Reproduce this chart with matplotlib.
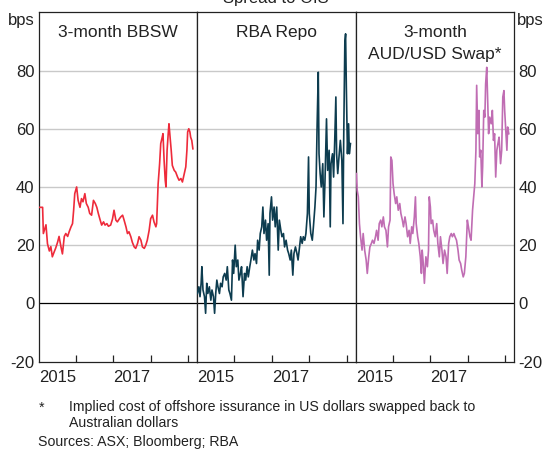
import matplotlib
matplotlib.use("Agg")
import matplotlib.pyplot as plt
from matplotlib.ticker import FixedLocator, NullFormatter, FixedFormatter

plt.rcParams['font.family'] = ['Liberation Sans', 'DejaVu Sans']
plt.rcParams['axes.unicode_minus'] = False

# ======================================================
# Data (years as decimal, values in bps)
# ======================================================

bbsw_t = [2015.02, 2015.11, 2015.13, 2015.20, 2015.24, 2015.29, 2015.33, 2015.37, 2015.42, 2015.46,
          2015.51, 2015.55, 2015.60, 2015.64, 2015.69, 2015.73, 2015.78, 2015.82, 2015.87, 2015.91,
          2015.94, 2015.97, 2016.02, 2016.06, 2016.11, 2016.15, 2016.19, 2016.24, 2016.28, 2016.33,
          2016.37, 2016.42, 2016.47, 2016.52, 2016.56, 2016.60, 2016.65, 2016.69, 2016.74, 2016.78,
          2016.83, 2016.87, 2016.93, 2016.98, 2017.02, 2017.07, 2017.11, 2017.16, 2017.20, 2017.25,
          2017.29, 2017.34, 2017.38, 2017.42, 2017.47, 2017.51, 2017.56, 2017.60, 2017.65, 2017.69,
          2017.74, 2017.78, 2017.83, 2017.87, 2017.91, 2017.96, 2018.00, 2018.05, 2018.09, 2018.14,
          2018.16, 2018.20, 2018.24, 2018.27, 2018.31, 2018.33, 2018.36, 2018.39, 2018.41, 2018.44,
          2018.47, 2018.49, 2018.52, 2018.55, 2018.58, 2018.63, 2018.67, 2018.72, 2018.76, 2018.81,
          2018.85, 2018.90, 2018.94, 2018.97, 2018.99, 2019.02, 2019.05, 2019.07, 2019.10, 2019.13]
bbsw_v = [33.0, 33.0, 24.0, 27.0, 20.5, 18.0, 19.5, 16.0, 17.7, 19.0,
          21.0, 23.0, 19.5, 17.0, 23.0, 24.0, 23.0, 24.6, 26.3, 27.4,
          32.0, 37.7, 40.0, 35.4, 33.0, 36.0, 34.9, 37.7, 34.3, 33.0,
          30.9, 30.3, 35.4, 34.3, 33.0, 30.9, 28.6, 26.9, 28.0, 26.9,
          27.4, 26.5, 26.9, 29.0, 32.0, 28.6, 28.0, 29.0, 29.7, 30.3,
          28.6, 26.3, 24.0, 24.6, 22.9, 21.0, 19.4, 18.9, 20.6, 22.9,
          21.7, 19.4, 18.9, 20.0, 21.7, 25.1, 29.1, 30.3, 28.0, 26.3,
          27.4, 41.0, 48.0, 54.9, 57.1, 58.3, 49.1, 42.3, 40.0, 52.6,
          58.3, 61.7, 57.1, 52.6, 47.4, 45.7, 45.1, 43.4, 42.3, 42.9,
          41.7, 44.6, 46.9, 52.6, 58.9, 60.0, 58.9, 57.1, 56.0, 53.1]

repo_t = [2015.01, 2015.05, 2015.08, 2015.11, 2015.13, 2015.16, 2015.20, 2015.23, 2015.26, 2015.29,
          2015.33, 2015.37, 2015.40, 2015.44, 2015.47, 2015.50, 2015.53, 2015.56, 2015.60, 2015.63,
          2015.67, 2015.70, 2015.74, 2015.78, 2015.81, 2015.85, 2015.88, 2015.92, 2015.95, 2015.98,
          2016.02, 2016.05, 2016.09, 2016.12, 2016.16, 2016.19, 2016.23, 2016.27, 2016.30, 2016.34,
          2016.37, 2016.41, 2016.44, 2016.48, 2016.52, 2016.55, 2016.59, 2016.62, 2016.66, 2016.69,
          2016.73, 2016.76, 2016.79, 2016.83, 2016.86, 2016.90, 2016.93, 2016.95, 2016.99, 2017.02,
          2017.06, 2017.09, 2017.13, 2017.17, 2017.20, 2017.24, 2017.27, 2017.31, 2017.34, 2017.38,
          2017.42, 2017.45, 2017.49, 2017.52, 2017.56, 2017.59, 2017.63, 2017.67, 2017.70, 2017.74,
          2017.77, 2017.81, 2017.84, 2017.88, 2017.91, 2017.95, 2017.98, 2018.00, 2018.04, 2018.08,
          2018.11, 2018.15, 2018.18, 2018.21, 2018.24, 2018.26, 2018.29, 2018.32, 2018.36, 2018.39,
          2018.42, 2018.46, 2018.49, 2018.53, 2018.56, 2018.58, 2018.62, 2018.65, 2018.68, 2018.71,
          2018.73, 2018.76, 2018.80, 2018.83, 2018.87, 2018.90, 2018.92, 2018.95, 2018.97, 2018.99,
          2019.02, 2019.05, 2019.07, 2019.10]
repo_v = [3.4, 5.7, 2.3, 6.9, 12.6, 4.6, 2.3, -3.4, 6.9, 3.4,
          5.7, 1.1, 4.6, 2.3, -3.4, 3.4, 8.0, 5.7, 3.4, 6.9,
          5.7, 9.1, 10.3, 8.0, 12.6, 4.6, 3.4, 1.1, 14.9, 10.3,
          20.0, 12.6, 14.9, 8.0, 10.3, 12.6, 2.3, 10.3, 8.0, 12.6,
          9.1, 12.6, 14.9, 18.3, 14.9, 17.1, 13.7, 21.7, 18.3, 24.0,
          26.3, 33.1, 24.0, 28.6, 21.7, 27.4, 9.7, 30.9, 36.6, 28.6,
          33.1, 26.3, 33.1, 18.3, 28.6, 25.1, 22.9, 24.0, 19.4, 21.7,
          18.3, 17.1, 14.9, 18.3, 9.7, 17.1, 19.4, 17.1, 14.9, 19.4,
          22.9, 20.6, 22.9, 21.7, 24.0, 30.9, 50.3, 30.9, 24.0, 21.7,
          26.3, 33.1, 40.0, 61.7, 79.4, 51.4, 44.6, 40.0, 48.0, 29.7,
          42.3, 63.4, 45.7, 52.6, 26.3, 48.0, 51.4, 43.4, 56.0, 70.9,
          51.4, 44.6, 51.4, 56.0, 49.1, 27.4, 57.1, 89.7, 92.6, 74.3,
          51.4, 61.7, 51.4, 54.9]

swap_t = [2015.02, 2015.04, 2015.07, 2015.10, 2015.13, 2015.17, 2015.20, 2015.24, 2015.28, 2015.31,
          2015.35, 2015.38, 2015.42, 2015.45, 2015.49, 2015.53, 2015.56, 2015.60, 2015.63, 2015.67,
          2015.70, 2015.74, 2015.77, 2015.81, 2015.85, 2015.88, 2015.92, 2015.94, 2015.97, 2016.00,
          2016.03, 2016.07, 2016.10, 2016.14, 2016.18, 2016.21, 2016.25, 2016.28, 2016.32, 2016.35,
          2016.39, 2016.43, 2016.46, 2016.50, 2016.53, 2016.57, 2016.60, 2016.62, 2016.66, 2016.69,
          2016.73, 2016.76, 2016.78, 2016.81, 2016.84, 2016.88, 2016.92, 2016.95, 2016.97, 2017.00,
          2017.02, 2017.06, 2017.09, 2017.13, 2017.17, 2017.20, 2017.24, 2017.27, 2017.31, 2017.34,
          2017.38, 2017.42, 2017.45, 2017.49, 2017.52, 2017.56, 2017.59, 2017.63, 2017.66, 2017.70,
          2017.74, 2017.77, 2017.81, 2017.84, 2017.88, 2017.91, 2017.95, 2017.99, 2018.02, 2018.06,
          2018.09, 2018.13, 2018.16, 2018.19, 2018.22, 2018.24, 2018.27, 2018.30, 2018.32, 2018.35,
          2018.38, 2018.40, 2018.43, 2018.46, 2018.48, 2018.51, 2018.54, 2018.56, 2018.59, 2018.63,
          2018.66, 2018.69, 2018.72, 2018.75, 2018.78, 2018.81, 2018.84, 2018.88, 2018.91, 2018.94,
          2018.97, 2018.99, 2019.02, 2019.05, 2019.07, 2019.10]
swap_v = [44.6, 38.9, 36.6, 27.4, 22.9, 18.3, 24.0, 18.3, 14.9, 10.3,
          16.0, 19.4, 20.6, 21.7, 20.6, 22.9, 25.1, 21.7, 27.4, 28.6,
          26.3, 29.7, 26.3, 25.1, 19.4, 26.3, 28.6, 50.3, 49.1, 41.1,
          37.7, 34.3, 36.6, 32.0, 34.3, 30.9, 28.6, 26.3, 29.7, 27.4,
          22.9, 25.1, 20.6, 26.3, 24.0, 29.7, 36.6, 27.4, 22.9, 20.6,
          16.0, 10.3, 18.3, 13.7, 6.9, 16.0, 12.6, 18.3, 36.6, 33.1,
          27.4, 28.6, 25.1, 22.9, 27.4, 20.6, 16.0, 22.9, 18.3, 13.7,
          18.3, 16.0, 10.3, 20.6, 22.9, 24.0, 22.9, 24.0, 22.9, 21.7,
          18.3, 14.9, 13.7, 11.4, 9.1, 10.3, 16.0, 28.6, 26.3, 22.9,
          21.7, 32.0, 36.6, 41.1, 52.6, 74.9, 58.3, 66.3, 50.3, 52.6,
          40.0, 46.9, 66.3, 64.0, 75.4, 81.1, 67.4, 58.3, 64.0, 61.7,
          66.3, 56.0, 58.3, 43.4, 52.6, 54.9, 57.1, 48.0, 52.6, 70.9,
          73.1, 66.3, 59.4, 52.6, 60.6, 58.3]

panel_titles = [["3-month BBSW"], ["RBA Repo"], ["3-month", "AUD/USD Swap*"]]
series = [(bbsw_t, bbsw_v), (repo_t, repo_v), (swap_t, swap_v)]
colours = ["#ee2b3b", "#0d3c4f", "#c06db3"]

y_ticks = [-20, 0, 20, 40, 60, 80]
year_ticks = [2016, 2017, 2018, 2019]
year_labels = ["2015", "2017"]
label_pos = [2015.5, 2017.5]


# ======================================================
# Figure
# ======================================================

W, H = 547, 451
fig = plt.figure(figsize=(W / 100, H / 100), dpi=100)

edges = [38.5, 197.0, 355.7, 514.0]
top_px, bot_px = 12.3, 361.6
title_baselines = [36.7, 59.3]
ink = "#222222"

axes = []
for i in range(3):
    ax = fig.add_axes([edges[i] / W, 1 - bot_px / H,
                       (edges[i + 1] - edges[i]) / W, (bot_px - top_px) / H])
    axes.append(ax)

for i, ax in enumerate(axes):
    t, v = series[i]
    ax.plot(t, v, color=colours[i], lw=1.2, zorder=3)

    ax.set_xlim(2015.0, 2019.24)
    ax.set_ylim(-20, 100)

    for g in [20, 40, 60, 80]:
        ax.axhline(g, color="#c9c9c9", lw=1.0, zorder=1)
    ax.axhline(0, color="black", lw=0.9, zorder=2)

    for s in ax.spines.values():
        s.set_color(ink)
        s.set_linewidth(0.9)

    ax.xaxis.set_major_locator(FixedLocator(year_ticks))
    ax.xaxis.set_major_formatter(NullFormatter())
    ax.xaxis.set_minor_locator(FixedLocator(label_pos))
    ax.xaxis.set_minor_formatter(FixedFormatter(year_labels))
    ax.tick_params(axis="x", which="major", direction="in", length=5,
                   width=0.9, color=ink)
    ax.tick_params(axis="x", which="minor", length=0, pad=6,
                   labelsize=12, labelcolor=ink)

    ax.set_yticks(y_ticks)
    ax.tick_params(axis="y", length=0, labelsize=12, labelcolor=ink, pad=3)
    ax.tick_params(axis="y", labelleft=(i == 0), labelright=(i == 2))

    # panel titles, one text per line
    xc = (edges[i] + edges[i + 1]) / 2 / W
    for line, yb in zip(panel_titles[i], title_baselines):
        fig.text(xc, 1 - yb / H, line, ha="center", va="baseline",
                 fontsize=12.5, color=ink)

fig.text(35 / W, 1 - 12.5 / H, "bps", ha="right", va="top", fontsize=12, color=ink)
fig.text(517 / W, 1 - 12.5 / H, "bps", ha="left", va="top", fontsize=12, color=ink)

fig.text(276 / W, 1 - 3.5 / H, "Spread to OIS", ha="center", va="baseline",
         fontsize=12, color=ink)

fs_note = 10.2
fig.text(39 / W, 1 - 411.5 / H, "*", ha="left", va="baseline", fontsize=fs_note, color=ink)
fig.text(69 / W, 1 - 411.5 / H,
         "Implied cost of offshore issurance in US dollars swapped back to",
         ha="left", va="baseline", fontsize=fs_note, color=ink)
fig.text(69 / W, 1 - 427.3 / H, "Australian dollars",
         ha="left", va="baseline", fontsize=fs_note, color=ink)
fig.text(37.7 / W, 1 - 445.7 / H, "Sources: ASX; Bloomberg; RBA",
         ha="left", va="baseline", fontsize=fs_note, color=ink)

fig.savefig("out.png", dpi=100)
